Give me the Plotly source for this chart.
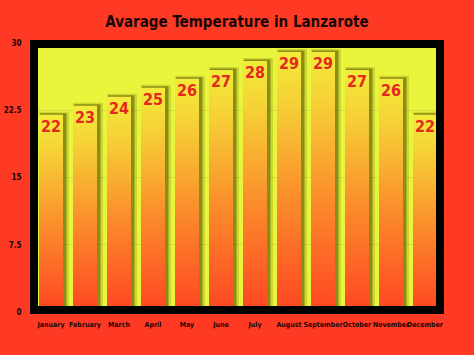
import plotly.graph_objects as go

months = ["January", "February", "March", "April", "May", "June", "July",
          "August", "September", "October", "November", "December"]
temps = [22, 23, 24, 25, 26, 27, 28, 29, 29, 27, 26, 22]
y_ticks = [0, 7.5, 15, 22.5, 30]
y_tick_labels = ["0", "7.5", "15", "22.5", "30"]

W, H = 474, 355
L, R, T, B = 34, 32, 43, 43
plot_w = W - L - R
plot_h = H - T - B
px_x = 12 / plot_w          # one pixel in x units (range width 12)
px_y = 30 / plot_h          # one pixel in y units (range 0..30)
half = 12 * px_x            # half bar width (24 px bars)

FONT = "DejaVu Sans Condensed, Liberation Sans Narrow, sans-serif"

fig = go.Figure()

def rect(xc, top, dx0, dx1, dy):
    x0 = xc - half + dx0
    x1 = xc + half + dx1
    return [x0, x1, x1, x0, x0], [0, 0, top + dy, top + dy, 0]

# soft shadows
for i, v in enumerate(temps):
    xs, ys = rect(i, v, 0 * px_x, 6 * px_x, 3 * px_y)
    fig.add_trace(go.Scatter(x=xs, y=ys, fill="toself", mode="lines",
                             line=dict(width=0), fillcolor="rgba(110,110,0,0.22)",
                             hoverinfo="skip", showlegend=False))
    xs, ys = rect(i, v, 1 * px_x, 3.5 * px_x, 1.5 * px_y)
    fig.add_trace(go.Scatter(x=xs, y=ys, fill="toself", mode="lines",
                             line=dict(width=0), fillcolor="rgba(70,70,0,0.5)",
                             hoverinfo="skip", showlegend=False))

# gradient bars
for i, v in enumerate(temps):
    xs, ys = rect(i, v, 0, 0, 0)
    fig.add_trace(go.Scatter(
        x=xs, y=ys, fill="toself", mode="lines", line=dict(width=0),
        fillgradient=dict(type="vertical", start=0, stop=v,
                          colorscale=[[0, "#ff4522"], [0.45, "#fb8f2c"],
                                      [0.8, "#f6cf36"], [1, "#f3ec3a"]]),
        hoverinfo="skip", showlegend=False))

# value labels (placed a few pixels below each bar top)
fig.add_trace(go.Scatter(
    x=list(range(len(temps))), y=[t - 5 * px_y for t in temps], mode="text",
    text=[str(t) for t in temps], textposition="bottom center",
    textfont=dict(family=FONT, size=16, color="#e3281d", weight="bold"),
    hoverinfo="skip", showlegend=False))

fig.update_layout(
    width=W, height=H,
    margin=dict(l=L, r=R, t=T, b=B, pad=0, autoexpand=False),
    paper_bgcolor="#ff3a24",
    plot_bgcolor="#e8f53c",
    title=dict(text="<b>Avarage Temperature in Lanzarote</b>", x=0.5, xanchor="center",
               y=1 - 22 / H, yanchor="middle", automargin=False,
               font=dict(family=FONT, size=15, color="#160606")),
    xaxis=dict(range=[-0.5, 11.5], tickmode="array",
               tickvals=list(range(len(months))), ticktext=months,
               showgrid=False, zeroline=False, showline=False, automargin=False,
               tickangle=0,
               ticks="outside", ticklen=6, tickcolor="rgba(0,0,0,0)",
               tickfont=dict(family=FONT, size=7, color="#1a0505", weight="bold"),
               fixedrange=True),
    yaxis=dict(range=[0, 30], tickmode="array", tickvals=y_ticks,
               ticktext=y_tick_labels, showgrid=True, gridcolor="#d6dd46",
               gridwidth=1, zeroline=False, showline=False, automargin=False,
               ticks="outside", ticklen=10, tickcolor="rgba(0,0,0,0)",
               tickfont=dict(family=FONT, size=8, color="#1a0505", weight="bold"),
               fixedrange=True),
    shapes=[dict(type="rect", xref="paper", yref="paper",
                 x0=0, x1=(440 - L) / plot_w,
                 y0=2 / plot_h, y1=1 - 1 / plot_h,
                 line=dict(color="#000000", width=8), layer="above")],
)

fig.write_html(
    "out.html",
    config={"displayModeBar": False},
    post_script="document.body.style.margin='0';document.body.style.background='#ff3a24';",
)
